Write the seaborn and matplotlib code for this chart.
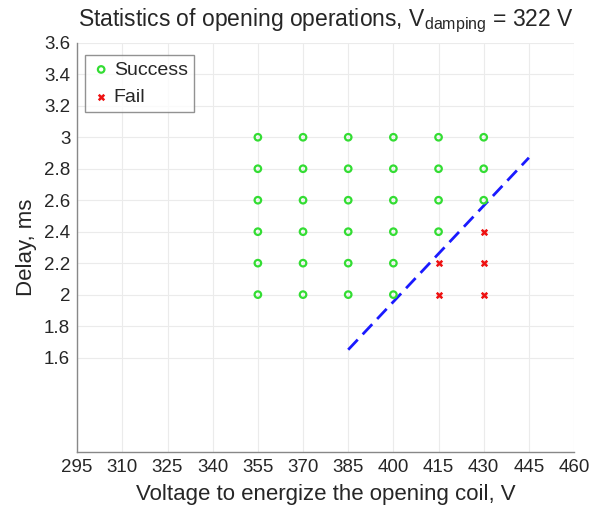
import numpy as np
import pandas as pd
import matplotlib
matplotlib.use('Agg')
import matplotlib.pyplot as plt
import seaborn as sns

success_volt = [355, 355, 355, 355, 355, 355,
                370, 370, 370, 370, 370, 370,
                385, 385, 385, 385, 385, 385,
                400, 400, 400, 400, 400, 400,
                415, 415, 415, 415,
                430, 430, 430]
success_delay = [2.0, 2.2, 2.4, 2.6, 2.8, 3.0,
                 2.0, 2.2, 2.4, 2.6, 2.8, 3.0,
                 2.0, 2.2, 2.4, 2.6, 2.8, 3.0,
                 2.0, 2.2, 2.4, 2.6, 2.8, 3.0,
                 2.4, 2.6, 2.8, 3.0,
                 2.6, 2.8, 3.0]
fail_volt = [415, 415, 430, 430, 430]
fail_delay = [2.0, 2.2, 2.0, 2.2, 2.4]

# boundary line
line_volt = [385, 445]
line_delay = [1.65, 2.87]

x_ticks = [295, 310, 325, 340, 355, 370, 385, 400, 415, 430, 445, 460]
y_ticks = [1.6, 1.8, 2.0, 2.2, 2.4, 2.6, 2.8, 3.0, 3.2, 3.4, 3.6]
y_ticklabels = ['1.6', '1.8', '2', '2.2', '2.4', '2.6', '2.8', '3', '3.2', '3.4', '3.6']

success = pd.DataFrame({'volt': success_volt, 'delay': success_delay})
fail = pd.DataFrame({'volt': fail_volt, 'delay': fail_delay})
boundary = pd.DataFrame({'volt': line_volt, 'delay': line_delay})

sns.set_style('white')
plt.rcParams['font.family'] = ['Liberation Sans', 'DejaVu Sans']
plt.rcParams['mathtext.fontset'] = 'custom'
plt.rcParams['mathtext.rm'] = 'Liberation Sans'
plt.rcParams['mathtext.default'] = 'regular'

fig = plt.figure(figsize=(6.03, 5.16), dpi=100)
ax = fig.add_axes([0.128, 0.124, 0.824, 0.793])

sns.lineplot(data=boundary, x='volt', y='delay', ax=ax, color='#1a1aff',
             linewidth=2, zorder=3)
ax.lines[-1].set_linestyle((0, (5, 2.6)))
sns.scatterplot(data=success, x='volt', y='delay', ax=ax, marker='o', s=22,
                facecolor='none', edgecolor='#33dd33', linewidth=1.6,
                label='Success', zorder=4)
sns.scatterplot(data=fail, x='volt', y='delay', ax=ax, marker='x', s=16,
                color='#ee1111', linewidth=1.8, label='Fail', zorder=4)

ax.set_xlim(295, 460)
ax.set_ylim(1.0, 3.6)
ax.set_xticks(x_ticks)
ax.set_yticks(y_ticks)
ax.set_yticklabels(y_ticklabels)
ax.grid(True, color='#ebebeb', linewidth=0.8)
ax.tick_params(direction='in', length=4, color='#888888', labelsize=13.5,
               labelcolor='#262626', pad=5)
for s in ['top', 'right']:
    ax.spines[s].set_visible(False)
for s in ['left', 'bottom']:
    ax.spines[s].set_color('#888888')
    ax.spines[s].set_linewidth(1.0)

ax.set_xlabel('Voltage to energize the opening coil, V', fontsize=16, color='#262626', labelpad=6)
ax.set_ylabel('Delay, ms', fontsize=16, color='#262626', labelpad=5)
ax.set_title('Statistics of opening operations, V$_{damping}$ = 322 V',
             fontsize=16.5, color='#262626', pad=12)

leg = ax.legend(loc='upper left', bbox_to_anchor=(0.015, 0.97), fontsize=14,
                frameon=True, fancybox=False, handletextpad=0.1,
                handlelength=1.1, borderpad=0.3, borderaxespad=0,
                labelspacing=0.5)
leg.get_frame().set_edgecolor('#777777')
leg.get_frame().set_linewidth(1.0)

fig.savefig('out.png', dpi=100)
